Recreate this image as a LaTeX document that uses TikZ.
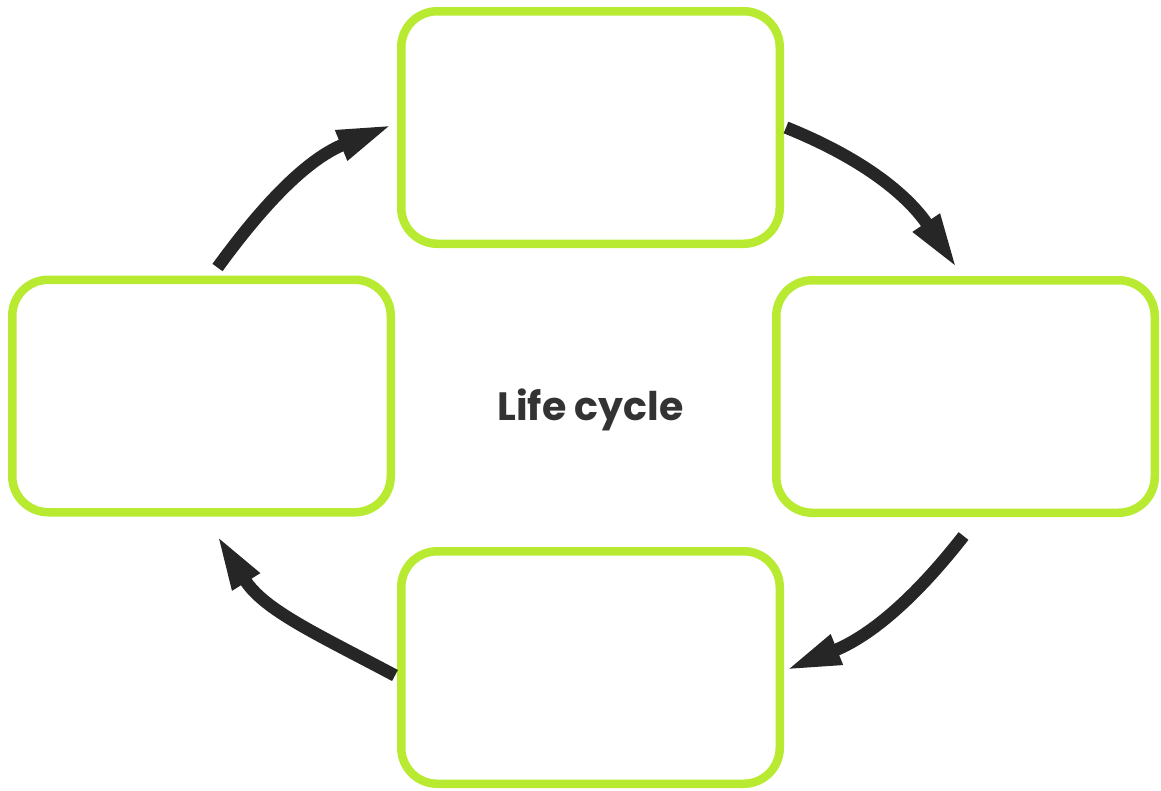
\documentclass[tikz,border=0pt]{standalone}
\usepackage{fontspec}
\setmainfont{Poppins}
\usetikzlibrary{arrows.meta}
\definecolor{lime}{RGB}{185,234,50}
\definecolor{arrowgray}{RGB}{38,38,38}
\definecolor{titlegray}{RGB}{51,51,51}
\begin{document}
\begin{tikzpicture}[x=1pt,y=1pt,
  stagebox/.style={draw=lime, line width=8.5pt, rounded corners=36pt,
    minimum width=378.5pt, minimum height=232.5pt, inner sep=0pt},
  cyclearrow/.style={draw=arrowgray, line width=12.5pt,
    -{Triangle[length=56pt,width=29pt]}}]
  \useasboundingbox (0,0) rectangle (1161,-790);

  % the four stages
  \node[stagebox] (top)    at (590.5,-127.5) {};
  \node[stagebox] (right)  at (965.5,-396.5) {};
  \node[stagebox] (bottom) at (590.5,-667.5) {};
  \node[stagebox] (left)   at (201.5,-396)   {};

  % centre title
  \node[anchor=base, text=titlegray, font=\fontsize{39.5}{48}\selectfont\bfseries]
    (title) at (590.5,-420) {Life cycle};

  % arrows running clockwise between the stages
  \draw[cyclearrow] ([shift={(2,0)}]top.east)
    to[out=-22,in=124] ([shift={(-8,7)}]right.north);
  \draw[cyclearrow] ([shift={(-2,-19)}]right.south)
    to[out=-128,in=22] ([shift={(1,-3)}]bottom.east);
  \draw[cyclearrow] ([shift={(-2,-8)}]bottom.west)
    to[out=152,in=-58] ([shift={(15,-18)}]left.south);
  \draw[cyclearrow] ([shift={(16,8)}]left.north)
    to[out=54,in=-158] ([shift={(-4,3)}]top.west);
\end{tikzpicture}
\end{document}
